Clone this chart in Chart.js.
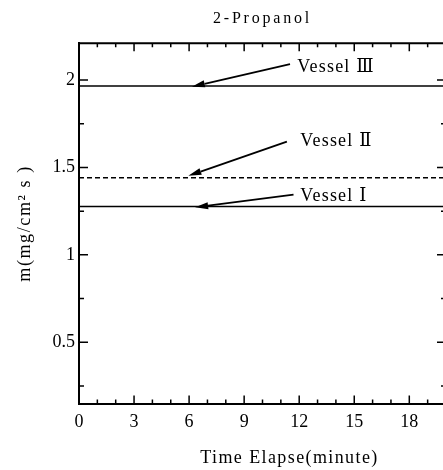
<!DOCTYPE html>
<html>
<head>
<meta charset="utf-8">
<script src="https://cdn.jsdelivr.net/npm/chart.js@4.4.1/dist/chart.umd.min.js"></script>
<style>
  html, body { margin: 0; padding: 0; overflow: hidden; background: #fff; }
  #wrap { position: relative; width: 446px; height: 470px; }
</style>
</head>
<body>
<div id="wrap"><canvas id="c"></canvas></div>
<script>
// ---- data ----
const chartTitle = "2-Propanol";
const xAxisTitle = "Time Elapse(minute)";
const yAxisTitle = "m(mg/cm\u00B2 s )";
const timeMinutes = [0, 3, 6, 9, 12, 15, 18, 20];
const vessel1 = [1.277, 1.277, 1.277, 1.277, 1.277, 1.277, 1.277, 1.277];
const vessel2 = [1.441, 1.441, 1.441, 1.441, 1.441, 1.441, 1.441, 1.441];
const vessel3 = [1.966, 1.966, 1.966, 1.966, 1.966, 1.966, 1.966, 1.966];
const seriesNames = ["Vessel \u2160", "Vessel \u2161", "Vessel \u2162"];
const xTickValues = [0, 3, 6, 9, 12, 15, 18];
const xMinorTickValues = [1, 2, 4, 5, 7, 8, 10, 11, 13, 14, 16, 17, 19];
const yTickValues = [0.5, 1, 1.5, 2];
const yTickLabels = ["0.5", "1", "1.5", "2"];
const yMinorTickValues = [0.25, 0.75, 1.25, 1.75];
const xRange = [0, 20];
const yRange = [0.15, 2.21];
// annotation anchors in data coordinates: label position, arrow tail, arrow tip
const labelAnchors = [
  { text: seriesNames[0], lx: 12.06, ly: 1.334, tail: [11.69, 1.344], tip: [6.33, 1.272] },
  { text: seriesNames[1], lx: 12.06, ly: 1.648, tail: [11.33, 1.648], tip: [5.96, 1.452] },
  { text: seriesNames[2], lx: 11.9,  ly: 2.074, tail: [11.5, 2.091],  tip: [6.15, 1.962] }
];

const SERIF = "'Liberation Serif', 'Times New Roman', 'DejaVu Serif', serif";

function pts(xs, ys) { return xs.map((x, i) => ({ x: x, y: ys[i] })); }

const spacingPlugin = {
  id: 'spacing',
  beforeDraw(chart) {
    const wrap = (obj, name, sp, dx) => {
      if (!obj || obj['__w_' + name]) return;
      obj['__w_' + name] = true;
      const orig = obj[name];
      obj[name] = function (...a) {
        const c = this.ctx;
        c.save();
        c.letterSpacing = sp;
        if (dx) c.translate(dx, 0);
        const r = orig.apply(this, a);
        c.restore();
        return r;
      };
    };
    wrap(chart.titleBlock, 'draw', '2.8px', 0);
    wrap(chart.scales.x, 'drawTitle', '1.4px', 27);
    wrap(chart.scales.y, 'drawTitle', '1.6px', 0);
  }
};

const framePlugin = {
  id: 'frame',
  afterDatasetsDraw(chart) {
    const ctx = chart.ctx;
    const a = chart.chartArea;
    const xs = chart.scales.x, ys = chart.scales.y;
    ctx.save();
    ctx.strokeStyle = '#000';
    // top and right borders
    ctx.lineWidth = 2;
    ctx.beginPath();
    ctx.moveTo(a.left, a.top); ctx.lineTo(a.right, a.top);
    ctx.moveTo(a.right, a.top); ctx.lineTo(a.right, a.bottom);
    ctx.stroke();
    // inward ticks
    ctx.lineWidth = 1.5;
    ctx.beginPath();
    const xt = (v, len) => {
      const p = xs.getPixelForValue(v);
      ctx.moveTo(p, a.bottom); ctx.lineTo(p, a.bottom - len);
      ctx.moveTo(p, a.top); ctx.lineTo(p, a.top + len);
    };
    const yt = (v, len) => {
      const p = ys.getPixelForValue(v);
      ctx.moveTo(a.left, p); ctx.lineTo(a.left + len, p);
      ctx.moveTo(a.right, p); ctx.lineTo(a.right - len, p);
    };
    xTickValues.forEach(v => xt(v, 8));
    xMinorTickValues.forEach(v => xt(v, 4));
    yTickValues.forEach(v => yt(v, 9));
    yMinorTickValues.forEach(v => yt(v, 5));
    ctx.stroke();

    // arrows and labels
    ctx.fillStyle = '#000';
    labelAnchors.forEach(an => {
      const x1 = xs.getPixelForValue(an.tail[0]), y1 = ys.getPixelForValue(an.tail[1]);
      const x2 = xs.getPixelForValue(an.tip[0]), y2 = ys.getPixelForValue(an.tip[1]);
      const ang = Math.atan2(y2 - y1, x2 - x1);
      const hl = 13, hw = 3.5;
      const bx = x2 - hl * Math.cos(ang), by = y2 - hl * Math.sin(ang);
      ctx.lineWidth = 1.8;
      ctx.beginPath();
      ctx.moveTo(x1, y1); ctx.lineTo(bx, by);
      ctx.stroke();
      ctx.beginPath();
      ctx.moveTo(x2, y2);
      ctx.lineTo(bx + hw * Math.sin(ang), by - hw * Math.cos(ang));
      ctx.lineTo(bx - hw * Math.sin(ang), by + hw * Math.cos(ang));
      ctx.closePath();
      ctx.fill();
      ctx.font = "18px " + SERIF;
      ctx.letterSpacing = '1.2px';
      ctx.textAlign = 'left';
      ctx.textBaseline = 'middle';
      ctx.fillText(an.text, xs.getPixelForValue(an.lx), ys.getPixelForValue(an.ly));
      ctx.letterSpacing = '0px';
    });
    ctx.restore();
  }
};

new Chart(document.getElementById('c'), {
  type: 'line',
  data: {
    datasets: [
      { label: seriesNames[0], data: pts(timeMinutes, vessel1), borderColor: '#000', borderWidth: 1.6, pointRadius: 0, fill: false },
      { label: seriesNames[1], data: pts(timeMinutes, vessel2), borderColor: '#000', borderWidth: 1.6, borderDash: [5, 3], pointRadius: 0, fill: false },
      { label: seriesNames[2], data: pts(timeMinutes, vessel3), borderColor: '#000', borderWidth: 1.6, pointRadius: 0, fill: false }
    ]
  },
  options: {
    responsive: true,
    maintainAspectRatio: false,
    animation: false,
    layout: { padding: 0 },
    plugins: {
      legend: { display: false },
      tooltip: { enabled: false },
      title: {
        display: true,
        fullSize: false,
        text: chartTitle,
        color: '#000',
        font: { family: SERIF, size: 16, weight: 'normal' },
        padding: { top: 9, bottom: 15.1 }
      }
    },
    scales: {
      x: {
        type: 'linear',
        min: xRange[0],
        max: xRange[1],
        afterBuildTicks: s => { s.ticks = xTickValues.map(v => ({ value: v })); },
        afterFit: s => { s.height = 66.5; },
        grid: { display: false, drawTicks: false },
        border: { display: true, color: '#000', width: 2 },
        ticks: {
          color: '#000',
          padding: 8,
          maxRotation: 0,
          font: { family: SERIF, size: 18 },
          callback: v => String(v)
        },
        title: {
          display: true,
          text: xAxisTitle,
          color: '#000',
          font: { family: SERIF, size: 18 },
          padding: { top: 0, bottom: 1 }
        }
      },
      y: {
        type: 'linear',
        min: yRange[0],
        max: yRange[1],
        afterBuildTicks: s => { s.ticks = yTickValues.map(v => ({ value: v })); },
        afterFit: s => { s.width = 79; },
        grid: { display: false, drawTicks: false },
        border: { display: true, color: '#000', width: 2 },
        ticks: {
          color: '#000',
          padding: 4,
          font: { family: SERIF, size: 18 },
          callback: v => yTickLabels[yTickValues.indexOf(v)] ?? String(v)
        },
        title: {
          display: true,
          text: yAxisTitle,
          color: '#000',
          font: { family: SERIF, size: 18 },
          padding: { top: 14, bottom: 0 }
        }
      }
    }
  },
  plugins: [spacingPlugin, framePlugin]
});
</script>
</body>
</html>
